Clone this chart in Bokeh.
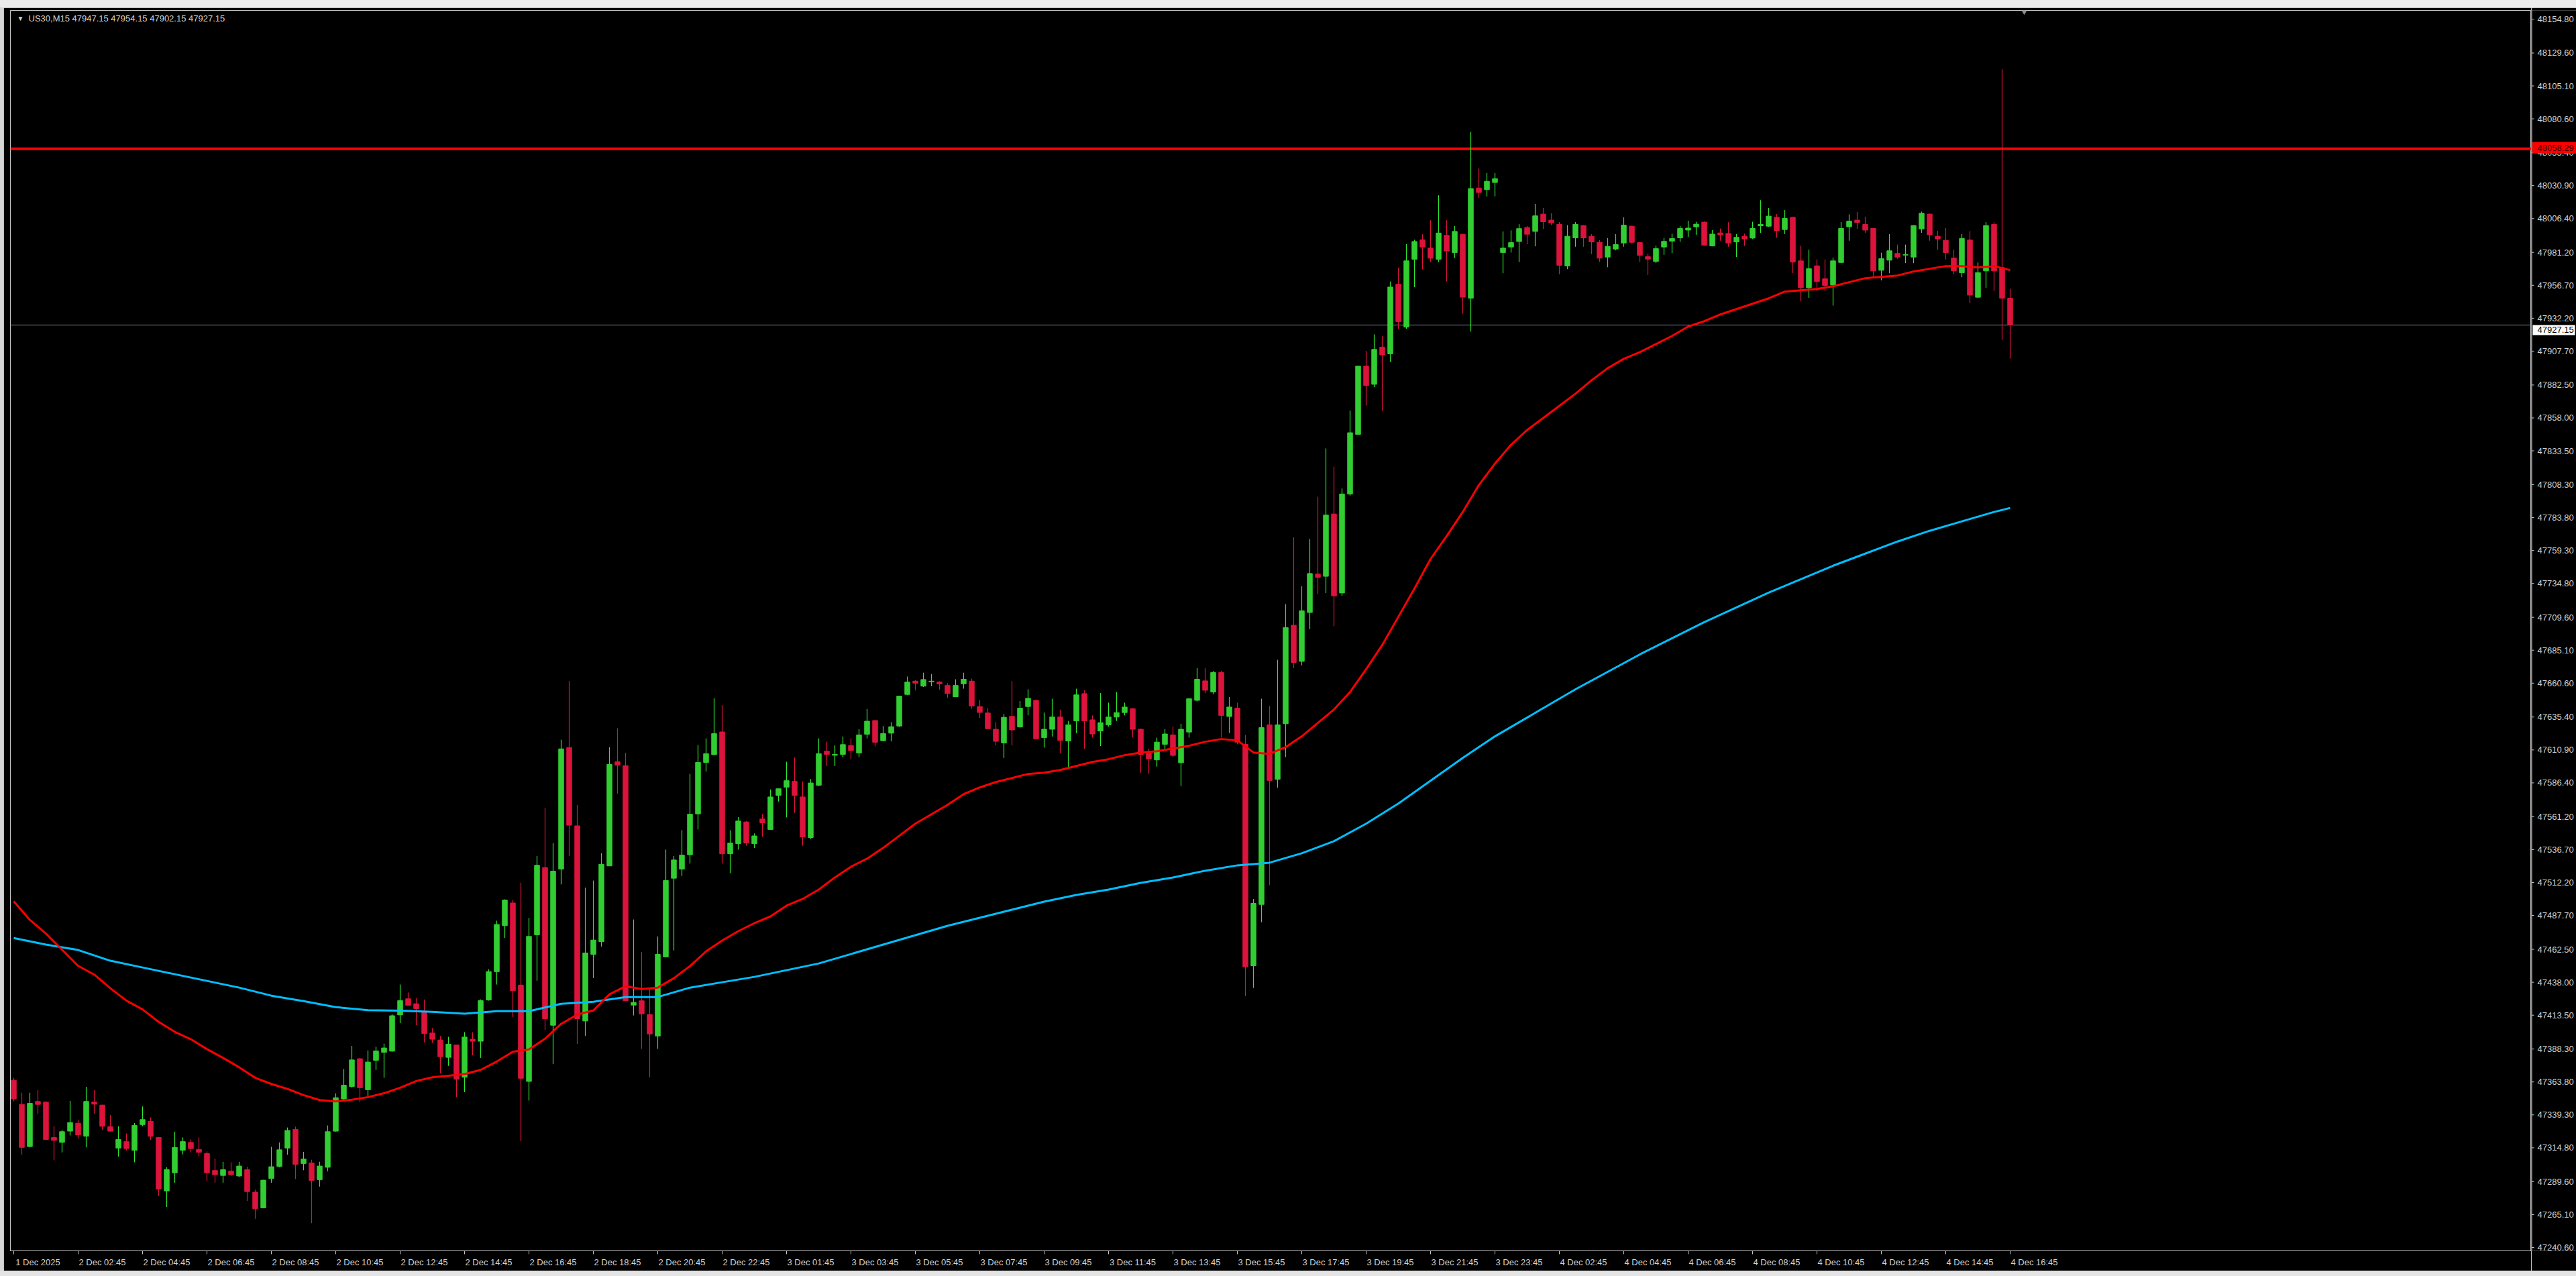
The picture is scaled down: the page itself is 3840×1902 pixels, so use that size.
from bokeh.plotting import figure
from bokeh.layouts import row, column
from bokeh.models import (ColumnDataSource, LinearAxis, FixedTicker, Range1d, Span, Label, Spacer)
from bokeh.core.properties import value
from bokeh.embed import file_html
from bokeh.resources import INLINE

# ---------------- data (US30, M15) ----------------
symbol = "US30,M15"
header_values = [47947.15, 47954.15, 47902.15, 47927.15]

opens = [
    47365.1, 47347.1, 47315.7, 47349.3, 47348.8, 47322.5, 47318.8, 47327.2, 47333.1, 47323.4,
    47348.8, 47346.6, 47330.5, 47314.6, 47319.4, 47312.9, 47332.1, 47334.5, 47322.5, 47282.7,
    47296.2, 47312.9, 47318.8, 47313.6, 47310.5, 47297.9, 47294.2, 47297.5, 47293.8, 47298.5,
    47281.8, 47270.1, 47292.0, 47300.9, 47314.6, 47328.4, 47303.1, 47303.5, 47291.1, 47300.3,
    47327.2, 47351.2, 47360.4, 47381.1, 47358.0, 47379.9, 47385.8, 47386.7, 47413.7, 47425.7,
    47422.0, 47416.5, 47400.2, 47395.0, 47382.1, 47391.3, 47367.3, 47395.6, 47394.1, 47424.8,
    47445.9, 47480.1, 47497.0, 47435.9, 47364.2, 47473.3, 47523.4, 47406.0, 47522.2, 47612.7,
    47554.4, 47409.2, 47458.8, 47468.2, 47524.6, 47602.1, 47599.2, 47421.0, 47424.2, 47414.0,
    47398.0, 47456.9, 47515.4, 47522.2, 47532.9, 47563.3, 47601.6, 47607.4, 47624.3, 47533.6,
    47541.1, 47557.3, 47541.1, 47559.5, 47551.7, 47577.1, 47583.2, 47587.5, 47575.9, 47545.7,
    47584.6, 47610.0, 47606.9, 47607.6, 47614.2, 47608.6, 47622.6, 47632.8, 47617.8, 47623.4,
    47628.7, 47652.2, 47662.1, 47658.4, 47661.6, 47661.4, 47658.9, 47650.5, 47660.1, 47662.1,
    47643.2, 47638.4, 47626.3, 47616.1, 47635.9, 47628.0, 47643.2, 47647.8, 47620.1, 47626.3,
    47635.4, 47617.6, 47632.5, 47652.8, 47633.3, 47625.0, 47629.6, 47635.4, 47638.7, 47641.6,
    47626.3, 47608.5, 47603.5, 47615.1, 47622.1, 47601.4, 47624.2, 47647.8, 47662.3, 47654.0,
    47668.5, 47635.8, 47642.0, 47615.1, 47450.3, 47495.9, 47629.6, 47589.0, 47630.4, 47703.7,
    47676.8, 47713.2, 47741.8, 47740.1, 47786.5, 47727.7, 47801.4, 47845.7, 47896.6, 47883.0,
    47910.7, 47905.7, 47957.5, 47925.6, 47976.1, 47990.6, 47984.4, 47976.1, 47993.9, 47981.1,
    47994.7, 47947.1, 48029.1, 48027.9, 48033.2, 47981.1, 47985.2, 47989.3, 47999.7, 47996.8,
    48009.7, 48005.2, 48002.0, 47971.1, 47992.0, 48001.2, 47993.2, 47988.7, 47977.7, 47983.7,
    47988.2, 48000.7, 47988.5, 47978.0, 47974.4, 47985.2, 47989.5, 47992.0, 47997.8, 48000.2,
    48003.7, 47986.0, 47995.7, 47995.3, 47989.0, 47993.2, 47991.9, 48001.0, 48000.7, 48007.3,
    47998.2, 48007.3, 47974.9, 47954.9, 47971.2, 47961.6, 47956.9, 47973.7, 48000.3, 48005.2,
    48002.0, 47999.0, 47967.9, 47975.4, 47980.4, 47979.2, 47977.7, 47998.7, 48009.7, 47993.2,
    47990.2, 47977.0, 47966.1, 47990.4, 47947.8, 47967.4, 48002.0, 47969.9, 47947.15,
]
highs = [
    47366.9, 47355.8, 47355.8, 47357.7, 47349.3, 47330.8, 47328.1, 47349.7, 47335.8, 47360.2,
    47357.7, 47346.8, 47339.2, 47330.8, 47325.5, 47333.2, 47345.6, 47337.3, 47322.7, 47300.3,
    47326.8, 47322.5, 47321.0, 47322.5, 47312.0, 47306.8, 47304.4, 47304.0, 47304.4, 47300.7,
    47283.7, 47290.9, 47315.5, 47318.8, 47329.9, 47330.5, 47311.8, 47305.9, 47304.4, 47331.4,
    47355.4, 47373.4, 47390.6, 47381.7, 47387.3, 47390.0, 47392.3, 47414.1, 47436.3, 47430.4,
    47426.1, 47425.2, 47403.9, 47398.0, 47397.4, 47391.5, 47400.9, 47400.8, 47425.2, 47447.7,
    47483.8, 47499.7, 47499.2, 47512.1, 47485.9, 47531.9, 47567.7, 47541.6, 47618.5, 47662.1,
    47569.9, 47508.4, 47513.7, 47534.1, 47613.0, 47627.0, 47608.8, 47484.7, 47460.5, 47433.9,
    47472.1, 47536.7, 47531.9, 47551.2, 47593.1, 47614.6, 47619.5, 47649.3, 47644.2, 47551.2,
    47560.9, 47558.0, 47548.8, 47563.3, 47581.5, 47582.0, 47602.1, 47605.2, 47587.5, 47589.2,
    47619.5, 47617.1, 47614.2, 47620.9, 47619.5, 47626.3, 47641.3, 47633.0, 47628.7, 47631.6,
    47651.2, 47665.5, 47663.0, 47668.4, 47667.4, 47662.1, 47660.6, 47663.5, 47668.4, 47664.0,
    47648.0, 47642.0, 47631.6, 47637.6, 47662.1, 47647.3, 47656.0, 47648.5, 47638.7, 47649.0,
    47640.8, 47632.5, 47656.5, 47655.3, 47636.6, 47653.2, 47646.1, 47654.0, 47646.1, 47642.0,
    47626.8, 47611.8, 47620.1, 47626.3, 47628.3, 47630.4, 47649.0, 47671.8, 47671.8, 47669.7,
    47669.7, 47650.3, 47646.1, 47622.1, 47500.0, 47649.0, 47643.7, 47678.0, 47719.4, 47769.1,
    47732.7, 47767.9, 47799.3, 47835.3, 47821.7, 47805.5, 47863.5, 47896.6, 47907.8, 47920.2,
    47919.0, 47959.5, 47969.9, 47987.3, 47990.6, 47994.7, 48005.1, 48023.7, 48005.1, 48000.9,
    47995.0, 48070.9, 48043.6, 48040.3, 48040.3, 47996.8, 47997.6, 48002.2, 48000.9, 48017.3,
    48014.3, 48010.3, 48003.7, 48001.5, 48003.7, 48001.5, 47994.8, 47990.4, 47991.9, 47994.8,
    48007.3, 48001.0, 47988.7, 47980.2, 47986.2, 47991.9, 47995.2, 48000.7, 48004.8, 48004.0,
    48004.3, 47997.8, 47999.0, 48003.7, 47994.8, 47995.2, 48004.0, 48020.1, 48014.3, 48009.8,
    48012.7, 48007.8, 47986.2, 47983.2, 47976.0, 47976.0, 47977.4, 48003.7, 48009.5, 48011.2,
    48007.8, 47999.3, 47981.0, 47994.8, 47987.0, 47987.0, 48001.5, 48011.5, 48010.0, 47997.3,
    47999.3, 47983.2, 47994.8, 47997.0, 47973.7, 48003.7, 48003.7, 48117.5, 47954.15,
]
lows = [
    47349.3, 47309.6, 47315.1, 47340.1, 47320.7, 47305.5, 47311.4, 47324.0, 47321.6, 47315.1,
    47340.1, 47328.1, 47326.8, 47308.3, 47312.9, 47304.0, 47330.8, 47320.7, 47279.0, 47270.7,
    47288.8, 47309.9, 47311.4, 47308.4, 47290.1, 47288.8, 47288.8, 47293.8, 47292.9, 47275.3,
    47262.0, 47269.8, 47288.8, 47300.3, 47309.6, 47291.6, 47298.1, 47258.7, 47285.9, 47297.2,
    47326.8, 47350.3, 47359.5, 47348.8, 47353.0, 47372.8, 47366.9, 47386.4, 47407.6, 47420.5,
    47406.1, 47393.2, 47392.8, 47370.2, 47375.8, 47352.5, 47356.2, 47383.6, 47381.7, 47424.3,
    47436.3, 47470.9, 47412.2, 47319.7, 47349.9, 47439.2, 47402.4, 47377.0, 47510.8, 47531.9,
    47392.0, 47398.0, 47441.1, 47464.6, 47524.6, 47578.3, 47424.0, 47413.3, 47388.4, 47367.3,
    47388.4, 47456.9, 47461.7, 47517.1, 47526.3, 47551.7, 47594.8, 47606.9, 47526.3, 47519.1,
    47536.7, 47539.6, 47537.9, 47546.4, 47551.7, 47572.5, 47560.7, 47564.1, 47539.6, 47544.7,
    47583.9, 47598.9, 47598.9, 47605.5, 47604.0, 47605.5, 47619.5, 47613.4, 47617.3, 47617.3,
    47628.0, 47651.7, 47655.3, 47657.7, 47658.4, 47655.8, 47649.7, 47650.5, 47656.5, 47641.5,
    47634.7, 47626.3, 47614.2, 47605.0, 47614.2, 47627.5, 47636.7, 47618.8, 47612.6, 47620.9,
    47608.5, 47597.3, 47623.4, 47611.8, 47620.1, 47613.8, 47628.3, 47632.5, 47636.6, 47620.1,
    47594.0, 47593.2, 47598.5, 47611.8, 47605.6, 47584.0, 47620.1, 47647.0, 47653.2, 47652.4,
    47620.1, 47623.4, 47615.1, 47427.6, 47433.8, 47482.6, 47510.3, 47582.8, 47605.6, 47671.8,
    47673.9, 47700.8, 47726.9, 47727.7, 47702.9, 47725.6, 47800.2, 47845.7, 47867.2, 47880.9,
    47863.1, 47899.5, 47924.4, 47924.4, 47955.4, 47968.6, 47974.0, 47974.0, 47959.5, 47976.9,
    47935.5, 47922.3, 48021.6, 48022.9, 48022.9, 47965.7, 47981.1, 47974.0, 47987.3, 47985.7,
    47998.7, 48001.5, 47964.9, 47968.7, 47985.4, 47985.4, 47979.9, 47974.0, 47970.2, 47982.7,
    47985.4, 47987.7, 47974.0, 47964.4, 47973.2, 47979.4, 47980.7, 47989.0, 47992.7, 47994.3,
    47986.2, 47985.7, 47989.9, 47985.4, 47977.7, 47986.0, 47991.2, 47995.7, 48000.2, 47992.0,
    47994.8, 47965.7, 47944.9, 47947.4, 47952.4, 47952.4, 47941.6, 47973.2, 47989.9, 47998.7,
    47995.7, 47962.4, 47960.4, 47965.7, 47976.5, 47973.2, 47973.2, 47995.7, 47989.9, 47983.2,
    47976.0, 47964.9, 47962.7, 47943.3, 47947.4, 47954.9, 47952.4, 47916.1, 47902.15,
]
closes = [
    47351.2, 47315.1, 47347.9, 47347.1, 47321.0, 47320.3, 47326.8, 47333.6, 47324.4, 47349.3,
    47347.3, 47330.8, 47327.2, 47321.0, 47314.2, 47331.4, 47335.8, 47323.4, 47284.2, 47298.5,
    47315.1, 47319.4, 47314.2, 47311.4, 47296.2, 47294.8, 47298.5, 47294.8, 47301.2, 47282.2,
    47269.4, 47290.7, 47300.7, 47313.3, 47327.7, 47302.5, 47306.4, 47290.5, 47301.2, 47326.8,
    47352.1, 47361.4, 47380.2, 47359.5, 47378.6, 47386.9, 47389.1, 47413.1, 47424.3, 47420.9,
    47418.3, 47399.8, 47395.6, 47382.6, 47391.9, 47365.8, 47397.2, 47394.1, 47424.3, 47445.9,
    47481.0, 47499.2, 47431.7, 47366.5, 47472.1, 47525.1, 47410.9, 47520.7, 47611.7, 47554.9,
    47410.9, 47459.8, 47469.4, 47525.8, 47600.1, 47599.6, 47424.2, 47423.0, 47414.5, 47399.5,
    47458.8, 47513.7, 47529.0, 47532.6, 47563.1, 47601.6, 47608.1, 47623.1, 47533.6, 47541.6,
    47558.0, 47541.6, 47546.9, 47556.6, 47575.9, 47582.0, 47588.0, 47577.1, 47546.2, 47586.3,
    47608.1, 47607.6, 47607.6, 47614.9, 47610.5, 47622.1, 47632.3, 47616.6, 47623.1, 47628.2,
    47651.0, 47661.4, 47660.6, 47663.3, 47662.1, 47660.1, 47652.9, 47658.9, 47663.5, 47643.7,
    47638.8, 47626.7, 47617.3, 47635.2, 47625.8, 47642.0, 47649.3, 47619.2, 47626.3, 47635.4,
    47618.0, 47629.6, 47651.9, 47632.5, 47622.8, 47631.2, 47635.4, 47638.7, 47642.8, 47626.3,
    47607.6, 47604.3, 47616.7, 47622.8, 47606.8, 47626.3, 47649.0, 47663.5, 47655.3, 47668.5,
    47636.6, 47642.8, 47616.7, 47449.5, 47496.7, 47627.5, 47588.2, 47629.6, 47702.0, 47676.0,
    47714.5, 47742.2, 47739.3, 47785.7, 47725.6, 47801.4, 47847.0, 47896.6, 47882.1, 47909.0,
    47904.9, 47955.4, 47929.7, 47974.9, 47989.3, 47985.2, 47976.9, 47995.6, 47982.3, 47996.8,
    47947.9, 48028.7, 48025.8, 48034.1, 48036.1, 47984.4, 47988.5, 47998.9, 47994.7, 48008.4,
    48004.0, 48003.2, 47971.6, 47993.2, 48002.0, 47992.0, 47989.0, 47976.9, 47985.7, 47987.0,
    48001.5, 47988.7, 47979.0, 47976.2, 47984.0, 47989.4, 47991.5, 47999.0, 47999.3, 48002.2,
    47986.5, 47994.8, 47994.3, 47988.2, 47992.4, 47991.2, 47999.0, 48002.0, 48008.2, 47997.3,
    48006.5, 47974.0, 47954.9, 47969.1, 47959.6, 47956.6, 47974.9, 47999.0, 48004.5, 48003.5,
    47997.8, 47967.4, 47976.5, 47982.4, 47977.7, 47979.5, 48001.2, 48010.3, 47994.3, 47991.2,
    47981.0, 47967.4, 47991.5, 47949.4, 47966.1, 48001.2, 47967.4, 47947.15, 47927.15,
]

# time-axis labels (one every 8 bars = 2 hours)
time_labels = [
    "1 Dec 2025", "2 Dec 02:45", "2 Dec 04:45", "2 Dec 06:45", "2 Dec 08:45", "2 Dec 10:45",
    "2 Dec 12:45", "2 Dec 14:45", "2 Dec 16:45", "2 Dec 18:45", "2 Dec 20:45", "2 Dec 22:45",
    "3 Dec 01:45", "3 Dec 03:45", "3 Dec 05:45", "3 Dec 07:45", "3 Dec 09:45", "3 Dec 11:45",
    "3 Dec 13:45", "3 Dec 15:45", "3 Dec 17:45", "3 Dec 19:45", "3 Dec 21:45", "3 Dec 23:45",
    "4 Dec 02:45", "4 Dec 04:45", "4 Dec 06:45", "4 Dec 08:45", "4 Dec 10:45", "4 Dec 12:45",
    "4 Dec 14:45", "4 Dec 16:45",
]

# price-scale labels
price_ticks = [
    48154.80, 48129.60, 48105.10, 48080.60, 48055.40, 48030.90, 48006.40, 47981.20,
    47956.70, 47932.20, 47907.70, 47882.50, 47858.00, 47833.50, 47808.30, 47783.80,
    47759.30, 47734.80, 47709.60, 47685.10, 47660.60, 47635.40, 47610.90, 47586.40,
    47561.20, 47536.70, 47512.20, 47487.70, 47462.50, 47438.00, 47413.50, 47388.30,
    47363.80, 47339.30, 47314.80, 47289.60, 47265.10, 47240.60,
]

level_red = 48058.29     # horizontal line
bid_price = 47927.15     # current price line

# moving averages (bar index, value)
ma_fast_idx = [0, 2, 4, 6, 8, 10, 12, 14, 16, 18, 20, 22, 24, 26, 28, 30, 32, 34, 36, 38,
               40, 42, 44, 46, 48, 50, 52, 54, 56, 58, 60, 62, 64, 66, 68, 70, 72, 74, 76, 78,
               80, 82, 84, 86, 88, 90, 92, 94, 96, 98, 100, 102, 104, 106, 108, 110, 112, 114,
               116, 118, 120, 122, 124, 126, 128, 130, 132, 134, 136, 138, 140, 142, 144, 146,
               148, 150, 152, 154, 156, 158, 160, 162, 164, 166, 168, 170, 172, 174, 176, 178,
               180, 182, 184, 186, 188, 190, 192, 194, 196, 198, 200, 202, 204, 206, 208, 210,
               212, 214, 216, 218, 220, 222, 224, 226, 228, 230, 232, 234, 236, 238, 240, 242,
               244, 246, 248]
ma_fast = [47498.2, 47484.4, 47474.2, 47462.2, 47450.2, 47443.7, 47433.5, 47424.3, 47417.8,
           47408.5, 47401.1, 47395.6, 47388.2, 47381.7, 47374.7, 47366.9, 47362.3, 47358.6,
           47354.0, 47350.3, 47349.3, 47350.6, 47352.5, 47355.4, 47359.5, 47364.5, 47367.3,
           47368.4, 47369.7, 47372.8, 47379.0, 47386.3, 47388.0, 47396.0, 47407.0, 47414.0,
           47417.0, 47429.0, 47435.0, 47433.0, 47434.0, 47441.0, 47450.0, 47461.0, 47469.0,
           47476.0, 47482.0, 47487.0, 47495.0, 47500.0, 47507.0, 47516.0, 47524.0, 47530.0,
           47538.0, 47547.0, 47556.0, 47563.0, 47570.0, 47578.0, 47583.0, 47587.0, 47590.0,
           47593.0, 47594.0, 47596.0, 47599.0, 47602.0, 47604.0, 47607.0, 47609.0, 47610.0,
           47612.0, 47614.0, 47617.0, 47619.0, 47618.0, 47609.0, 47608.0, 47613.0, 47621.0,
           47631.0, 47641.0, 47654.0, 47671.0, 47689.0, 47710.0, 47731.0, 47753.0, 47770.0,
           47788.0, 47808.0, 47824.0, 47838.0, 47849.0, 47858.0, 47867.0, 47876.0, 47886.0,
           47895.0, 47902.0, 47907.0, 47913.0, 47919.0, 47926.0, 47930.0, 47935.0, 47939.0,
           47943.0, 47947.0, 47952.0, 47953.0, 47954.0, 47956.0, 47959.0, 47962.0, 47963.0,
           47964.0, 47967.0, 47969.0, 47971.0, 47971.0, 47970.0, 47971.0, 47968.0]

ma_slow_idx = [0, 4, 8, 12, 16, 20, 24, 28, 32, 36, 40, 44, 48, 52, 56, 60, 64, 68, 72, 76,
               80, 84, 88, 92, 96, 100, 104, 108, 112, 116, 120, 124, 128, 132, 136, 140, 144,
               148, 152, 156, 160, 164, 168, 172, 176, 180, 184, 188, 190, 194, 198, 202, 206,
               210, 214, 218, 222, 226, 230, 234, 238, 242, 246, 248]
ma_slow = [47470.9, 47466.0, 47462.0, 47454.0, 47449.0, 47444.0, 47439.0, 47434.0, 47428.0,
           47424.0, 47419.5, 47417.2, 47416.9, 47416.0, 47414.6, 47416.5, 47416.5, 47422.0,
           47423.5, 47427.0, 47427.0, 47434.0, 47438.0, 47442.0, 47447.0, 47452.0, 47459.0,
           47466.0, 47473.0, 47480.0, 47486.0, 47492.0, 47498.0, 47503.0, 47507.0, 47512.0,
           47516.0, 47521.0, 47525.0, 47527.0, 47534.0, 47543.0, 47556.0, 47571.0, 47588.0,
           47605.0, 47621.0, 47635.0, 47642.0, 47656.0, 47669.0, 47682.0, 47694.0, 47706.0,
           47717.0, 47728.0, 47738.0, 47748.0, 47757.0, 47766.0, 47774.0, 47781.0, 47788.0,
           47791.0]

# ---------------- styling ----------------
BG = "#000000"
FG = "#d2d2d2"
FRAME = "#c8c8c8"
BULL_BODY = "#32cd32"
BULL_WICK = "#2ee82e"
BEAR = "#dc143c"
FONT = "Liberation Sans"
CHROME_TOP = "#ececec"
CHROME_SIDE = "#d6d6d6"
CHROME_BOTTOM = "#e4e4e4"

n = len(opens)
assert len(highs) == n and len(lows) == n and len(closes) == n, (len(opens), len(highs), len(lows), len(closes))
assert len(ma_fast_idx) == len(ma_fast) and len(ma_slow_idx) == len(ma_slow)

idx = list(range(n))
bull = [c >= o for o, c in zip(opens, closes)]

def subset(flag):
    sel = [i for i in idx if bull[i] == flag]
    return ColumnDataSource(dict(
        x=sel,
        top=[max(opens[i], closes[i]) for i in sel],
        bottom=[min(opens[i], closes[i]) for i in sel],
        high=[highs[i] for i in sel],
        low=[lows[i] for i in sel],
    ))

src_bull = subset(True)
src_bear = subset(False)

# page geometry (no page margin): bar i at page x = 20 + 12*i,
# chart frame x 15..3773, y 15..1864; price scale 3773..3840;
# window chrome: top strip 0..11, left strip 0..5, bottom strip 1894..1902
PAGE_W, PAGE_H = 3840, 1902
TOP_STRIP, LEFT_STRIP, BOTTOM_STRIP = 11, 5, 8
H = PAGE_H - TOP_STRIP - BOTTOM_STRIP
CHART_W = 3773 - LEFT_STRIP
SCALE_W = PAGE_W - 3773
B_TOP = 15 - TOP_STRIP
B_BOTTOM = (PAGE_H - BOTTOM_STRIP) - 1864
x0 = (15 - 20) / 12.0
x1 = (3773 - 20) / 12.0
y_top = 48161.3
y_bot = 47238.1
yr = Range1d(y_bot, y_top)
ppx = (y_top - y_bot) / (1864 - 15)   # price per pixel (styling offsets only)

p = figure(width=CHART_W, height=H, output_backend="svg", toolbar_location=None,
           x_range=Range1d(x0, x1), y_range=yr,
           x_axis_location=None, y_axis_location=None,
           min_border_left=15 - LEFT_STRIP, min_border_top=B_TOP, min_border_right=0,
           min_border_bottom=B_BOTTOM,
           background_fill_color=BG, border_fill_color=BG,
           outline_line_color=FRAME, outline_line_width=1)
p.grid.visible = False

# reference lines
p.add_layout(Span(location=bid_price, dimension="width", line_color="#8a9099", line_width=1,
                  level="underlay"))
p.add_layout(Span(location=level_red, dimension="width", line_color="#ff0000", line_width=4,
                  level="underlay"))

# candles
p.segment(x0="x", y0="low", x1="x", y1="high", source=src_bull, line_color=BULL_WICK, line_width=1.2)
p.segment(x0="x", y0="low", x1="x", y1="high", source=src_bear, line_color=BEAR, line_width=1.2)
p.vbar(x="x", top="top", bottom="bottom", width=0.62, source=src_bull,
       fill_color=BULL_BODY, line_color=BULL_BODY, line_width=1)
p.vbar(x="x", top="top", bottom="bottom", width=0.62, source=src_bear,
       fill_color=BEAR, line_color=BEAR, line_width=1)

# moving averages
p.line(ma_slow_idx, ma_slow, line_color="#00bfff", line_width=3)
p.line(ma_fast_idx, ma_fast, line_color="#ff0000", line_width=3)

# chart-shift marker at the top
p.scatter([(3017 - 20) / 12.0], [y_top - 2 * ppx], marker="inverted_triangle", size=7,
          fill_color="#8c8c8c", line_color="#8c8c8c")

# time axis: tick marks at the bars, labels to the right of each tick
tick_pos = [8 * k for k in range(len(time_labels))]
xax_ticks = LinearAxis(ticker=FixedTicker(ticks=tick_pos),
                       axis_line_color=FRAME, major_tick_line_color=FRAME,
                       major_tick_out=5, major_tick_in=0, minor_tick_line_color=None,
                       major_label_overrides={t: "" for t in tick_pos},
                       major_label_standoff=0, major_label_text_font_size="1px")
p.add_layout(xax_ticks, "below")
lab_pos = [t + 3 for t in tick_pos]
xax_labels = LinearAxis(ticker=FixedTicker(ticks=lab_pos),
                        axis_line_color=None, major_tick_line_color=None,
                        minor_tick_line_color=None, major_tick_out=0, major_tick_in=0,
                        major_label_overrides={t: s for t, s in zip(lab_pos, time_labels)},
                        major_label_standoff=4,
                        major_label_text_color=FG, major_label_text_font=FONT,
                        major_label_text_font_size="13px")
p.add_layout(xax_labels, "below")

# header (symbol + OHLC of the last bar)
p.add_layout(Label(x=(25 - 20) / 12.0, y=y_top - 12 * ppx, text="\u25bc", text_color=FG,
                   text_font=FONT, text_font_size="10px", text_baseline="middle",
                   text_align="left"))
p.add_layout(Label(x=(42 - 20) / 12.0, y=y_top - 12 * ppx,
                   text=symbol + "  " + " ".join("%.2f" % v for v in header_values),
                   text_color=FG, text_font=FONT, text_font_size="13px",
                   text_baseline="middle", text_align="left"))

# ---------------- price scale (shares the price range) ----------------
ps = figure(width=SCALE_W, height=H, output_backend="svg", toolbar_location=None,
            x_range=Range1d(0, SCALE_W), y_range=yr,
            x_axis_location=None, y_axis_location=None,
            min_border_left=0, min_border_right=0, min_border_top=B_TOP,
            min_border_bottom=B_BOTTOM,
            background_fill_color=BG, border_fill_color=BG, outline_line_color=None)
ps.grid.visible = False
ps.add_layout(Span(location=0.5, dimension="height", line_color=FRAME, line_width=1))
nt = len(price_ticks)
ps.segment(x0=[0] * nt, y0=price_ticks, x1=[4] * nt, y1=price_ticks, line_color=FRAME)
ps.text(x=[9] * nt, y=price_ticks, text=["%.2f" % t for t in price_ticks],
        text_font=value(FONT), text_font_size="13px", text_color=FG,
        text_baseline="middle", text_align="left")
# price tags
ps.quad(left=[1.5], right=[SCALE_W], top=[level_red + 10 * ppx], bottom=[level_red - 7 * ppx],
        fill_color="#ff0000", line_color=None)
ps.text(x=[9], y=[level_red + 1.5 * ppx], text=["%.2f" % level_red],
        text_font=value(FONT), text_font_size="13px", text_color="#3a0000",
        text_baseline="middle", text_align="left")
ps.quad(left=[2], right=[SCALE_W - 2], top=[bid_price], bottom=[bid_price - 15 * ppx],
        fill_color="#ffffff", line_color=None)
ps.text(x=[9], y=[bid_price - 7.5 * ppx], text=["%.2f" % bid_price],
        text_font=value(FONT), text_font_size="13px", text_color="#000000",
        text_baseline="middle", text_align="left")

# ---------------- window chrome around the chart ----------------
top_strip = Spacer(width=PAGE_W, height=TOP_STRIP, styles={"background-color": CHROME_TOP})
left_strip = Spacer(width=LEFT_STRIP, height=H, styles={"background-color": CHROME_SIDE})
bottom_strip = Spacer(width=PAGE_W, height=BOTTOM_STRIP, styles={"background-color": CHROME_BOTTOM})

layout = column(top_strip, row(left_strip, p, ps, spacing=0), bottom_strip, spacing=0)
open("out.html", "w").write(file_html(layout, INLINE))
